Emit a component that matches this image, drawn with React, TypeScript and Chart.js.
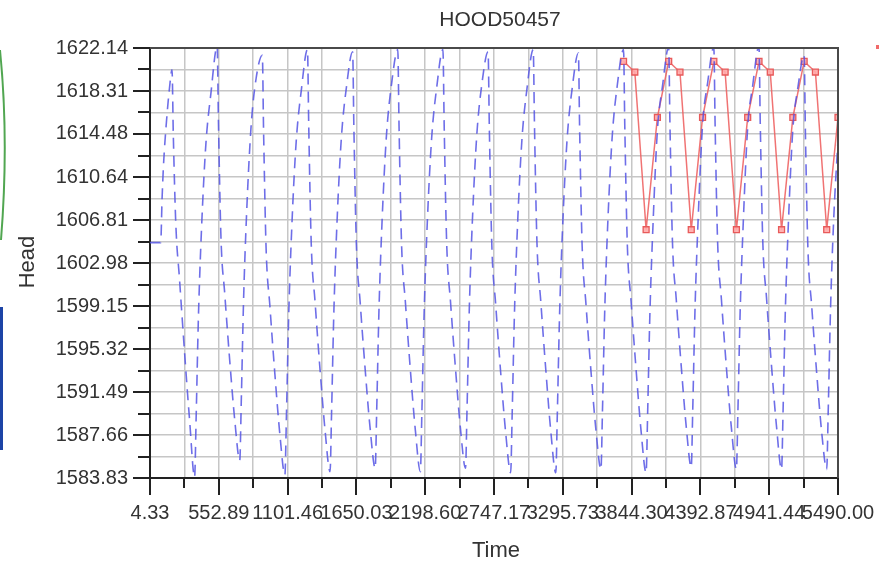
import React, { useEffect, useRef } from 'react';
import { Chart, registerables } from 'chart.js';

Chart.register(...registerables);

const chartTitle = 'HOOD50457';
const xAxisTitle = 'Time';
const yAxisTitle = 'Head';

const xTickLabels = ['4.33', '552.89', '1101.46', '1650.03', '2198.60', '2747.17', '3295.73', '3844.30', '4392.87', '4941.44', '5490.00'];
const yTickLabels = ['1583.83', '1587.66', '1591.49', '1595.32', '1599.15', '1602.98', '1606.81', '1610.64', '1614.48', '1618.31', '1622.14'];

// simulated head (blue dashed)
const simTime = [
  4.33, 90, 100, 112, 135, 160, 180,
  190, 210, 240, 280, 320, 360,
  372, 390, 415, 450, 490, 540,
  550, 570, 600, 640, 680, 720,
  732, 750, 775, 810, 850, 900,
  910, 930, 960, 1000, 1040, 1080,
  1092, 1110, 1135, 1170, 1210, 1260,
  1270, 1290, 1320, 1360, 1400, 1440,
  1452, 1470, 1495, 1530, 1570, 1620,
  1630, 1650, 1680, 1720, 1760, 1800,
  1812, 1830, 1855, 1890, 1930, 1980,
  1990, 2010, 2040, 2080, 2120, 2160,
  2172, 2190, 2215, 2250, 2290, 2340,
  2350, 2370, 2400, 2440, 2480, 2520,
  2532, 2550, 2575, 2610, 2650, 2700,
  2710, 2730, 2760, 2800, 2840, 2880,
  2892, 2910, 2935, 2970, 3010, 3060,
  3070, 3090, 3120, 3160, 3200, 3240,
  3252, 3270, 3295, 3330, 3370, 3420,
  3430, 3450, 3480, 3520, 3560, 3600,
  3612, 3630, 3655, 3690, 3730, 3780,
  3790, 3810, 3840, 3880, 3920, 3960,
  3972, 3990, 4015, 4050, 4090, 4140,
  4150, 4170, 4200, 4240, 4280, 4320,
  4332, 4350, 4375, 4410, 4450, 4500,
  4510, 4530, 4560, 4600, 4640, 4680,
  4692, 4710, 4735, 4770, 4810, 4860,
  4870, 4890, 4920, 4960, 5000, 5040,
  5052, 5070, 5095, 5130, 5170, 5220,
  5230, 5250, 5280, 5320, 5360, 5400,
  5412, 5430, 5455, 5490,
];
const simHead = [
  1604.8, 1604.8, 1608.5, 1611.7, 1615.5, 1618.6, 1620.2,
  1614.5, 1606.5, 1601.5, 1595.0, 1589.0, 1583.9,
  1589.1, 1598.0, 1606.0, 1613.6, 1618.1, 1622.3,
  1615.6, 1605.3, 1600.3, 1594.3, 1589.0, 1585.4,
  1590.6, 1599.5, 1607.5, 1615.1, 1619.4, 1621.5,
  1614.7, 1604.3, 1599.2, 1593.1, 1587.7, 1584.1,
  1589.3, 1598.2, 1606.2, 1613.8, 1618.3, 1622.0,
  1615.2, 1604.7, 1599.6, 1593.5, 1588.1, 1584.4,
  1589.6, 1598.5, 1606.5, 1614.1, 1618.6, 1621.8,
  1615.0, 1604.6, 1599.5, 1593.5, 1588.2, 1584.7,
  1589.9, 1598.8, 1606.8, 1614.4, 1618.9, 1622.0,
  1615.2, 1604.7, 1599.6, 1593.5, 1588.1, 1584.4,
  1589.6, 1598.5, 1606.5, 1614.1, 1618.6, 1622.0,
  1615.2, 1604.7, 1599.6, 1593.6, 1588.2, 1584.7,
  1589.9, 1598.8, 1606.8, 1614.4, 1618.9, 1621.8,
  1615.0, 1604.5, 1599.4, 1593.3, 1587.9, 1584.3,
  1589.5, 1598.4, 1606.4, 1614.0, 1618.5, 1622.0,
  1615.2, 1604.7, 1599.6, 1593.5, 1588.0, 1584.3,
  1589.5, 1598.4, 1606.4, 1614.0, 1618.5, 1621.7,
  1614.9, 1604.5, 1599.4, 1593.4, 1588.1, 1584.6,
  1589.8, 1598.7, 1606.7, 1614.3, 1618.8, 1622.0,
  1615.2, 1604.7, 1599.6, 1593.5, 1588.0, 1584.3,
  1589.5, 1598.4, 1606.4, 1614.8, 1618.7, 1622.2,
  1615.4, 1604.9, 1599.8, 1593.8, 1588.4, 1584.8,
  1590.0, 1598.9, 1606.9, 1615.3, 1619.0, 1622.2,
  1615.4, 1604.9, 1599.8, 1593.7, 1588.3, 1584.6,
  1589.8, 1598.7, 1606.7, 1615.1, 1618.8, 1622.3,
  1615.5, 1605.0, 1599.9, 1593.8, 1588.4, 1584.6,
  1589.8, 1598.7, 1606.7, 1614.9, 1618.6, 1621.5,
  1614.7, 1604.3, 1599.2, 1593.2, 1587.9, 1584.6,
  1589.8, 1598.7, 1606.7, 1614.0,
];

// observed head (red squares)
const obsTime = [3780, 3870, 3960, 4050, 4140, 4230, 4320, 4410, 4500, 4590, 4680, 4770, 4860, 4950, 5040, 5130, 5220, 5310, 5400, 5490];
const obsHead = [
  1620.95, 1620.0, 1605.95, 1615.95,
  1620.95, 1620.0, 1605.95, 1615.95,
  1620.95, 1620.0, 1605.95, 1615.95,
  1620.95, 1620.0, 1605.95, 1615.95,
  1620.95, 1620.0, 1605.95, 1615.95,
];

const FONT = '"Liberation Sans", Arial, sans-serif';

function withMinors(vals: number[]) {
  const out: { value: number }[] = [];
  vals.forEach((v, i) => {
    out.push({ value: v });
    if (i < vals.length - 1) out.push({ value: (v + vals[i + 1]) / 2 });
  });
  return out;
}

const decorPlugin = {
  id: 'decor',
  afterDraw(chart: any) {
    const { ctx, chartArea: a, scales } = chart;
    ctx.save();
    // frame top/right
    ctx.strokeStyle = '#4a4a4a';
    ctx.lineWidth = 2;
    ctx.beginPath();
    ctx.moveTo(a.left, a.top);
    ctx.lineTo(a.right, a.top);
    ctx.lineTo(a.right, a.bottom);
    ctx.stroke();
    // tick marks
    ctx.strokeStyle = '#222';
    ctx.lineWidth = 2;
    scales.x.ticks.forEach((t: any, i: number) => {
      const px = Math.round(scales.x.getPixelForValue(t.value));
      const len = i % 2 === 0 ? 17 : 10;
      ctx.beginPath();
      ctx.moveTo(px, a.bottom);
      ctx.lineTo(px, a.bottom + len);
      ctx.stroke();
    });
    scales.y.ticks.forEach((t: any, i: number) => {
      const py = Math.round(scales.y.getPixelForValue(t.value));
      const len = i % 2 === 0 ? 17 : 12;
      ctx.beginPath();
      ctx.moveTo(a.left, py);
      ctx.lineTo(a.left - len, py);
      ctx.stroke();
    });
    // titles
    ctx.fillStyle = '#333';
    ctx.textAlign = 'center';
    ctx.textBaseline = 'alphabetic';
    ctx.font = `21px ${FONT}`;
    ctx.fillText(chartTitle, 500, 26);
    ctx.font = `22px ${FONT}`;
    ctx.fillText(xAxisTitle, 496, 557);
    ctx.translate(34, 262);
    ctx.rotate(-Math.PI / 2);
    ctx.fillText(yAxisTitle, 0, 0);
    ctx.restore();
  },
};

export default function App() {
  const ref = useRef<HTMLCanvasElement | null>(null);

  useEffect(() => {
    document.body.style.margin = '0';
    const canvas = ref.current;
    if (!canvas) return;
    const xVals = xTickLabels.map(parseFloat);
    const yVals = yTickLabels.map(parseFloat);

    const chart = new Chart(canvas, {
      type: 'line',
      data: {
        datasets: [
          {
            label: 'Simulated',
            data: simTime.map((t, i) => ({ x: t, y: simHead[i] })),
            borderColor: 'rgba(85, 85, 228, 0.85)',
            borderWidth: 1.6,
            borderDash: [11, 7],
            pointRadius: 0,
            fill: false,
            cubicInterpolationMode: 'monotone',
          },
          {
            label: 'Observed',
            data: obsTime.map((t, i) => ({ x: t, y: obsHead[i] })),
            borderColor: 'rgba(238, 100, 100, 0.9)',
            borderWidth: 1.5,
            pointStyle: 'rect',
            pointRadius: 4.2,
            pointBorderWidth: 1.3,
            pointBorderColor: 'rgba(232, 90, 90, 1)',
            pointBackgroundColor: 'rgba(255, 170, 170, 0.9)',
            fill: false,
            tension: 0,
          },
        ],
      },
      options: {
        animation: false,
        responsive: false,
        devicePixelRatio: 1,
        layout: { padding: { left: 0, right: 41, top: 48, bottom: 0 } },
        plugins: {
          legend: { display: false },
          title: { display: false },
          tooltip: { enabled: false },
        },
        scales: {
          x: {
            type: 'linear',
            min: xVals[0],
            max: xVals[xVals.length - 1],
            afterBuildTicks: (s: any) => {
              s.ticks = withMinors(xVals);
            },
            afterFit: (s: any) => {
              s.height = 85;
              s.paddingLeft = 0;
              s.paddingRight = 0;
            },
            ticks: {
              autoSkip: false,
              maxRotation: 0,
              minRotation: 0,
              padding: 23,
              color: '#333',
              font: { family: FONT, size: 20 },
              callback: (_v: any, i: number) => (i % 2 === 0 ? xTickLabels[i / 2] : ''),
            },
            grid: { color: '#c6c6c6', lineWidth: 1.5, drawTicks: false },
            border: { display: true, color: '#222', width: 2 },
          },
          y: {
            type: 'linear',
            min: yVals[0],
            max: yVals[yVals.length - 1],
            afterBuildTicks: (s: any) => {
              s.ticks = withMinors(yVals);
            },
            afterFit: (s: any) => {
              s.width = 150;
              s.paddingTop = 0;
              s.paddingBottom = 0;
            },
            ticks: {
              autoSkip: false,
              padding: 22,
              color: '#333',
              font: { family: FONT, size: 20 },
              callback: (_v: any, i: number) => (i % 2 === 0 ? yTickLabels[i / 2] : ''),
            },
            grid: { color: '#c6c6c6', lineWidth: 1.5, drawTicks: false },
            border: { display: true, color: '#222', width: 2 },
          },
        },
      } as any,
      plugins: [decorPlugin],
    });
    return () => chart.destroy();
  }, []);

  return (
    <div style={{ position: 'absolute', left: 0, top: 0, width: 879, height: 563, background: '#fff', overflow: 'hidden' }}>
      <canvas ref={ref} width={879} height={563} style={{ display: 'block', width: 879, height: 563 }} />
      <svg width={12} height={260} style={{ position: 'absolute', left: 0, top: 20 }}>
        <path d="M 0 30 Q 9 120 1 220" stroke="rgba(50,150,50,0.85)" strokeWidth={2} fill="none" />
      </svg>
      <div style={{ position: 'absolute', left: 0, top: 307, width: 3, height: 143, background: '#1d44a6' }} />
      <div style={{ position: 'absolute', left: 876, top: 45, width: 3, height: 4, background: 'rgba(240,90,90,0.9)' }} />
    </div>
  );
}
